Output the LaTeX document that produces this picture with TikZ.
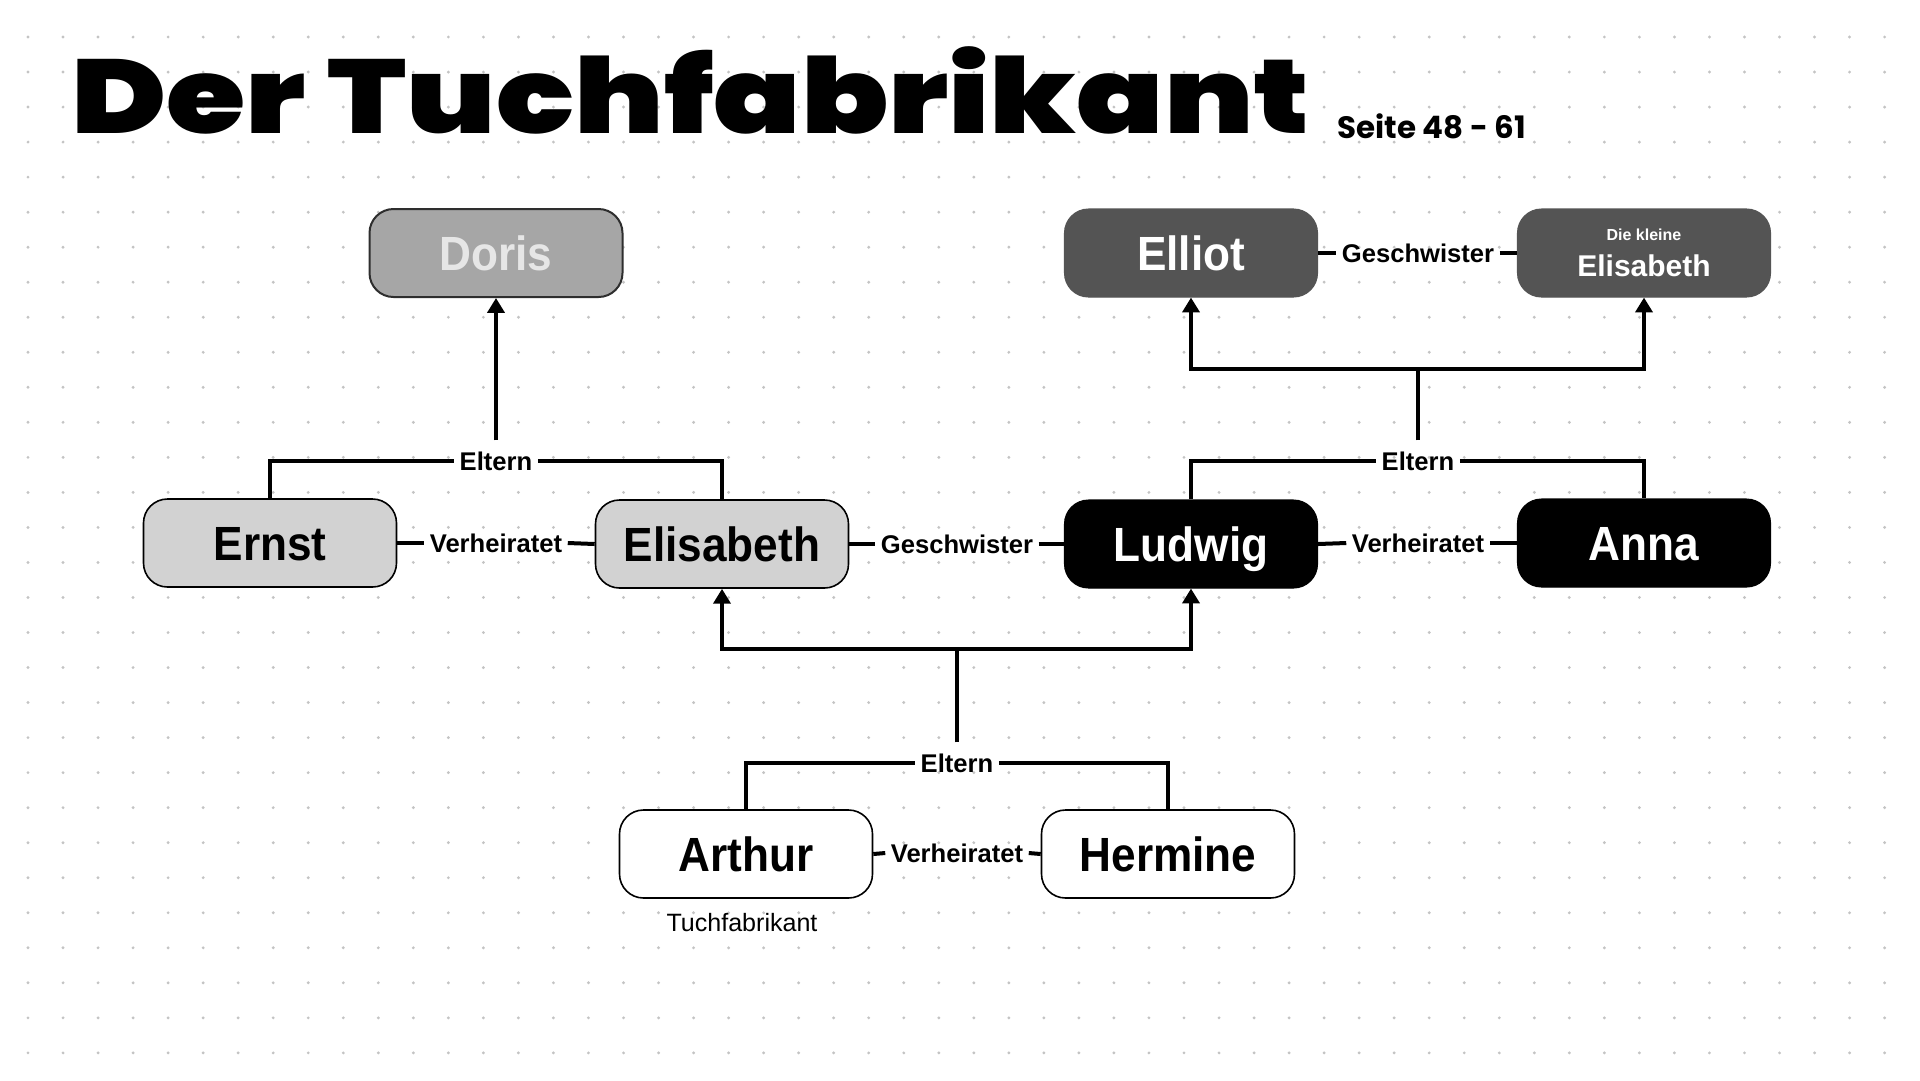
\documentclass[tikz,border=0pt]{standalone}
\usepackage{fontspec}
\usepackage{graphicx}
\setmainfont{Liberation Sans}
\newfontfamily\namefont{Liberation Sans}[FakeStretch=0.92]
\newfontfamily\poppins{Poppins}
\IfFontExistsTF{Poppins Black}{\newfontfamily\titlefont{Poppins Black}}{\newfontfamily\titlefont{Poppins}[UprightFont={* Bold},FakeBold=1.5]}
\usetikzlibrary{arrows.meta}
\definecolor{dorisfill}{HTML}{A6A6A6}
\definecolor{doristext}{HTML}{E6E6E6}
\definecolor{dorisline}{HTML}{2E2E2E}
\definecolor{lightfill}{HTML}{D2D2D2}
\definecolor{darkfill}{HTML}{545454}
\definecolor{dotgray}{HTML}{C4C4C4}
\tikzset{
  person/.style={rounded corners=9pt, minimum width=253*0.375pt, minimum height=88*0.375pt, inner sep=0pt, align=center},
  bigname/.style={person, font=\namefont\bfseries\fontsize{18pt}{20pt}\selectfont, text height=12.9pt, text depth=0pt},
  dorisbox/.style={bigname, fill=dorisfill, draw=dorisline, line width=0.75pt, text=doristext},
  lightbox/.style={bigname, fill=lightfill, draw=black, line width=0.6pt},
  darkbox/.style={bigname, fill=darkfill, draw=darkfill, text=white},
  blackbox/.style={bigname, fill=black, draw=black, text=white},
  whitebox/.style={bigname, fill=white, draw=black, line width=0.6pt},
  lbl/.style={font=\bfseries\fontsize{9.6pt}{11pt}\selectfont, inner xsep=1.9pt, inner ysep=4pt, text height=7pt, text depth=0pt},
  conn/.style={line width=1.5pt},
  arr/.style={conn, -{Triangle[length=5.6pt,width=6.4pt]}}
}
\begin{document}
\begin{tikzpicture}[x=0.375pt,y=-0.375pt]
\useasboundingbox (0,0) rectangle (1920,1080);
\fill[white] (0,0) rectangle (1920,1080);
% dot grid
\foreach \i in {0,...,53} {
  \foreach \j in {0,...,29} {
    \fill[dotgray] ({28+35.03*\i},{37+35.03*\j}) circle (0.6pt);
  }
}
% title
\node[anchor=base west, inner sep=0pt] (title) at (70.5,133) {\resizebox{464.5pt}{\height}{\titlefont\fontsize{39.3pt}{43pt}\selectfont Der Tuchfabrikant}};
\node[anchor=base west, inner sep=0pt] (seite) at (1337,138) {\poppins\bfseries\fontsize{11.6pt}{14pt}\selectfont Seite 48 - 61};

% persons
\node[dorisbox] (doris) at (496,253) {Doris};
\node[lightbox] (ernst) at (270,543) {Ernst};
\node[lightbox] (elis) at (722,544) {Elisabeth};
\node[blackbox] (ludwig) at (1191,544) {Ludwig};
\node[blackbox] (anna) at (1644,543) {Anna};
\node[darkbox] (elliot) at (1191,253) {Elliot};
\node[person, fill=darkfill, draw=darkfill, text=white, font=\bfseries\fontsize{11.25pt}{13.5pt}\selectfont] (kleine) at (1644,253) {{\fontsize{6pt}{7pt}\selectfont Die kleine}\\Elisabeth};
\node[whitebox] (arthur) at (746,854) {Arthur};
\node[whitebox] (hermine) at (1168,854) {Hermine};
\node[font=\fontsize{9.4pt}{11pt}\selectfont, inner sep=0pt] (beruf) at (742,923) {Tuchfabrikant};

% relation labels
\node[lbl] (v1) at (496,543) {Verheiratet};
\node[lbl] (g1) at (957,544) {Geschwister};
\node[lbl] (v2) at (1418,543) {Verheiratet};
\node[lbl] (g2) at (1418,253) {Geschwister};
\node[lbl] (v3) at (957,853) {Verheiratet};
\node[lbl] (e1) at (496,461) {Eltern};
\node[lbl] (e2) at (1418,461) {Eltern};
\node[lbl] (e3) at (957,763) {Eltern};

\coordinate (j2) at (1418,369);
\coordinate (j3) at (957,649);

% marriage / sibling lines
\draw[conn] (ernst.east) -- (v1.west);
\draw[conn] (v1.east) -- (elis.west);
\draw[conn] (elis.east) -- (g1.west);
\draw[conn] (g1.east) -- (ludwig.west);
\draw[conn] (ludwig.east) -- (v2.west);
\draw[conn] (v2.east) -- (anna.west);
\draw[conn] (elliot.east) -- (g2.west);
\draw[conn] (g2.east) -- (kleine.west);
\draw[conn] (arthur.east) -- (v3.west);
\draw[conn] (v3.east) -- (hermine.west);

% parent lines
\draw[conn] (ernst.north) |- (e1.west);
\draw[conn] (e1.east) -| (elis.north);
\draw[arr] (e1.north) -- (doris.south);

\draw[conn] (ludwig.north) |- (e2.west);
\draw[conn] (e2.east) -| (anna.north);
\draw[conn] (e2.north) -- (j2);
\draw[arr] (j2) -| (elliot.south);
\draw[arr] (j2) -| (kleine.south);

\draw[conn] (arthur.north) |- (e3.west);
\draw[conn] (e3.east) -| (hermine.north);
\draw[conn] (e3.north) -- (j3);
\draw[arr] (j3) -| (elis.south);
\draw[arr] (j3) -| (ludwig.south);
\end{tikzpicture}
\end{document}
